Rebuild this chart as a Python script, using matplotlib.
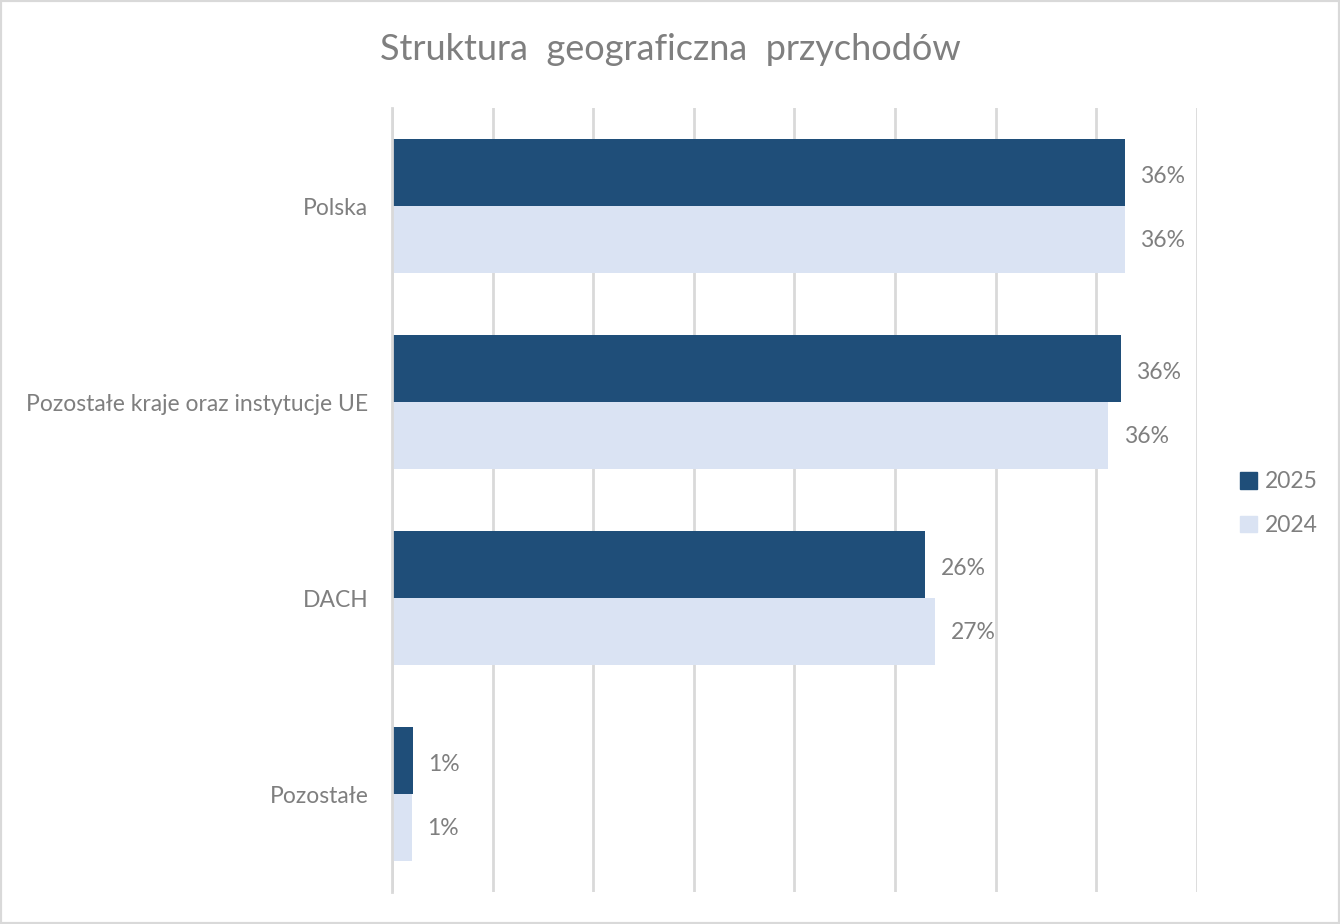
import matplotlib.pyplot as plt
from matplotlib.patches import Patch

regions = ['Polska', 'Pozostałe kraje oraz instytucje UE', 'DACH', 'Pozostałe']
share_2025 = [36.4, 36.2, 26.5, 1.05]
share_2024 = [36.4, 35.6, 27.0, 0.98]
labels_2025 = ['36%', '36%', '26%', '1%']
labels_2024 = ['36%', '36%', '27%', '1%']

dark = '#1F4E79'
light = '#DAE3F3'
grey = '#7F7F7F'

plt.rcParams['font.family'] = ['Lato', 'DejaVu Sans']

fig = plt.figure(figsize=(13.4, 9.24), dpi=100)
ax = fig.add_axes([0.2925, 0.0346, 0.6008, 0.8485])

pos = range(len(regions))
h = 0.34
ax.barh([p - h / 2 for p in pos], share_2025, height=h, color=dark, label='2025', zorder=2)
ax.barh([p + h / 2 for p in pos], share_2024, height=h, color=light, label='2024', zorder=2)

for p, v, t in zip(pos, share_2025, labels_2025):
    ax.annotate(t, (v, p - h / 2), xytext=(11, -2.5), textcoords='offset points',
                va='center', ha='left', fontsize=16.5, color=grey)
for p, v, t in zip(pos, share_2024, labels_2024):
    ax.annotate(t, (v, p + h / 2), xytext=(11, -1), textcoords='offset points',
                va='center', ha='left', fontsize=16.5, color=grey)

ax.set_xlim(0, 40)
ax.set_ylim(3.5, -0.5)
ax.set_xticks(range(0, 41, 5))
ax.set_xticklabels([])
ax.set_yticks(list(pos))
ax.set_yticklabels(regions, fontsize=16.5, color=grey)
ax.tick_params(axis='both', length=0, pad=17)
ax.grid(axis='x', color='#D9D9D9', linewidth=2, zorder=0)
for s in ['top', 'right', 'bottom']:
    ax.spines[s].set_visible(False)
ax.spines['left'].set_color('#D9D9D9')
ax.spines['left'].set_linewidth(2)

fig.text(0.5, 0.946, 'Struktura  geograficzna  przychodów', ha='center', va='center',
         fontsize=26, color=grey)

handles = [Patch(color=dark, label='2025'), Patch(color=light, label='2024')]
fig.legend(handles=handles, loc='center left', bbox_to_anchor=(0.91, 0.455),
           frameon=False, fontsize=16.5, labelcolor=grey, handlelength=0.75,
           handleheight=0.75, handletextpad=0.35, labelspacing=1.0)

fig.patches.append(plt.Rectangle((0, 0), 1, 1, transform=fig.transFigure,
                                 fill=False, edgecolor='#D9D9D9', linewidth=3))

plt.savefig('out.png')
plt.close(fig)
